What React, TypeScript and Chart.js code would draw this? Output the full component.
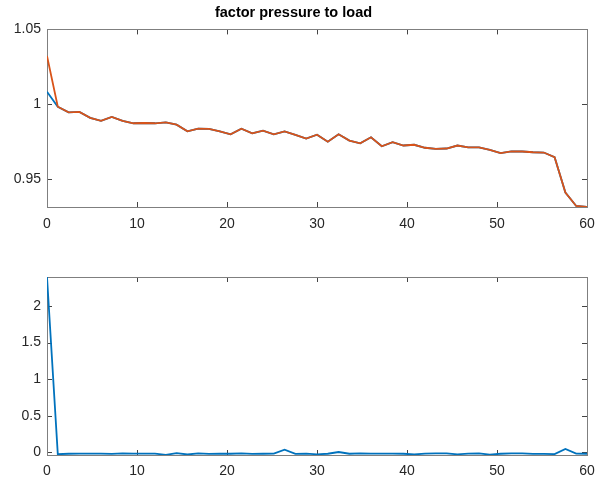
import React, { useEffect, useRef } from "react";
import { Chart, registerables } from "chart.js";

Chart.register(...registerables);

const titleText = "factor pressure to load";

const xValues = [
  0, 1.2, 2.4, 3.6, 4.8, 6, 7.2, 8.4, 9.6, 10.8, 12, 13.2, 14.4, 15.6, 16.8, 18,
  19.2, 20.4, 21.6, 22.8, 24, 25.2, 26.4, 27.6, 28.8, 30, 31.2, 32.4, 33.6, 34.8,
  36, 37.2, 38.4, 39.6, 40.8, 42, 43.2, 44.4, 45.6, 46.8, 48, 49.2, 50.4, 51.6,
  52.8, 54, 55.2, 56.4, 57.6, 58.8, 60,
];

const blueTop = [
  1.0082, 0.9982, 0.9944, 0.9947, 0.9907, 0.9887, 0.9913, 0.9887, 0.9871, 0.9873,
  0.9871, 0.9877, 0.9862, 0.9817, 0.9835, 0.9834, 0.9817, 0.9797, 0.9835, 0.9803,
  0.9822, 0.9797, 0.9817, 0.9793, 0.9769, 0.9794, 0.9747, 0.9797, 0.9755, 0.9737,
  0.9777, 0.9717, 0.9744, 0.9722, 0.9727, 0.9707, 0.97, 0.9702, 0.9722, 0.9709,
  0.9709, 0.9693, 0.9671, 0.9682, 0.9682, 0.9677, 0.9675, 0.9644, 0.9407, 0.9317,
  0.931,
];

const orangeTop = [
  1.0322, 0.9982, 0.9944, 0.9947, 0.9907, 0.9887, 0.9913, 0.9887, 0.9871, 0.9873,
  0.9871, 0.9877, 0.9862, 0.9817, 0.9835, 0.9834, 0.9817, 0.9797, 0.9835, 0.9803,
  0.9822, 0.9797, 0.9817, 0.9793, 0.9769, 0.9794, 0.9747, 0.9797, 0.9755, 0.9737,
  0.9777, 0.9717, 0.9744, 0.9722, 0.9727, 0.9707, 0.97, 0.9702, 0.9722, 0.9709,
  0.9709, 0.9693, 0.9671, 0.9682, 0.9682, 0.9677, 0.9675, 0.9644, 0.9407, 0.9317,
  0.931,
];

const blueBottom = [
  2.396, -0.027, -0.02, -0.018, -0.019, -0.017, -0.021, -0.016, -0.018, -0.017,
  -0.018, -0.035, -0.012, -0.03, -0.016, -0.022, -0.018, -0.02, -0.016, -0.021,
  -0.02, -0.017, 0.035, -0.022, -0.017, -0.028, -0.02, 0.004, -0.02, -0.015,
  -0.017, -0.019, -0.018, -0.02, -0.03, -0.017, -0.015, -0.016, -0.028, -0.017,
  -0.015, -0.032, -0.02, -0.014, -0.015, -0.021, -0.022, -0.025, 0.045, -0.018,
  -0.02,
];

const xTicks = [0, 10, 20, 30, 40, 50, 60];
const topYTicks = [0.95, 1, 1.05];
const bottomYTicks = [0, 0.5, 1, 1.5, 2];

const BLUE = "#0072BD";
const ORANGE = "#D95319";
const FONT = "'Liberation Sans', Arial, sans-serif";
const TEXT = "#262626";

const boxPlugin = {
  id: "matlabBox",
  beforeDatasetsDraw(chart: any) {
    const { ctx, chartArea, scales } = chart;
    const { left, right, top, bottom } = chartArea;
    ctx.save();
    ctx.lineWidth = 1;
    ctx.strokeStyle = "#444444";
    const tl = 5;
    ctx.beginPath();
    for (const t of scales.x.ticks) {
      const px = Math.round(scales.x.getPixelForValue(t.value)) + 0.5;
      ctx.moveTo(px, bottom);
      ctx.lineTo(px, bottom - tl);
      ctx.moveTo(px, top);
      ctx.lineTo(px, top + tl);
    }
    for (const t of scales.y.ticks) {
      const py = Math.round(scales.y.getPixelForValue(t.value)) + 0.5;
      ctx.moveTo(left, py);
      ctx.lineTo(left + tl, py);
      ctx.moveTo(right, py);
      ctx.lineTo(right - tl, py);
    }
    ctx.stroke();
    ctx.strokeStyle = "#7f7f7f";
    ctx.strokeRect(
      Math.round(left) + 0.5,
      Math.round(top) + 0.5,
      Math.round(right) - Math.round(left),
      Math.round(bottom) - Math.round(top)
    );
    ctx.restore();
  },
};

function makePoints(ys: number[]) {
  return ys.map((y, i) => ({ x: xValues[i], y }));
}

function fmt(v: number) {
  return String(Math.round(v * 1000) / 1000);
}

function buildOptions(opts: {
  yMin: number;
  yMax: number;
  yTicks: number[];
  xHeight: number;
  xPad: number;
  padTop: number;
  title: boolean;
}) {
  return {
    responsive: false,
    animation: false as const,
    layout: { padding: { left: 0, right: 14, top: opts.padTop, bottom: 0 } },
    plugins: {
      legend: { display: false },
      tooltip: { enabled: false },
      title: {
        display: opts.title,
        text: titleText,
        color: "#000000",
        font: { family: FONT, size: 14.5, weight: "bold" as const },
        padding: { top: 4, bottom: 8 },
      },
    },
    scales: {
      x: {
        type: "linear" as const,
        min: 0,
        max: 60,
        grid: { display: false, drawTicks: false },
        border: { display: false },
        afterBuildTicks: (s: any) => {
          s.ticks = xTicks.map((v) => ({ value: v }));
        },
        afterFit: (s: any) => {
          s.height = opts.xHeight;
          s.paddingLeft = 0;
          s.paddingRight = 0;
        },
        ticks: {
          color: TEXT,
          font: { family: FONT, size: 14 },
          padding: opts.xPad,
          maxRotation: 0,
          callback: (v: any) => fmt(Number(v)),
        },
      },
      y: {
        type: "linear" as const,
        min: opts.yMin,
        max: opts.yMax,
        grid: { display: false, drawTicks: false },
        border: { display: false },
        afterBuildTicks: (s: any) => {
          s.ticks = opts.yTicks.map((v) => ({ value: v }));
        },
        afterFit: (s: any) => {
          s.width = 47;
          s.paddingTop = 0;
          s.paddingBottom = 0;
        },
        ticks: {
          color: TEXT,
          font: { family: FONT, size: 14 },
          padding: 6,
          callback: (v: any) => fmt(Number(v)),
        },
      },
    },
  };
}

export default function App() {
  const topRef = useRef<HTMLCanvasElement | null>(null);
  const botRef = useRef<HTMLCanvasElement | null>(null);

  useEffect(() => {
    const c1 = new Chart(topRef.current as HTMLCanvasElement, {
      type: "line",
      data: {
        datasets: [
          {
            data: makePoints(blueTop),
            borderColor: BLUE,
            borderWidth: 1.8,
            pointRadius: 0,
            tension: 0,
            order: 1,
          },
          {
            data: makePoints(orangeTop),
            borderColor: ORANGE,
            borderWidth: 1.8,
            pointRadius: 0,
            tension: 0,
            order: 0,
          },
        ],
      },
      options: buildOptions({
        yMin: 0.931,
        yMax: 1.05,
        yTicks: topYTicks,
        xHeight: 34,
        xPad: 9,
        padTop: 0,
        title: true,
      }) as any,
      plugins: [boxPlugin],
    });
    const c2 = new Chart(botRef.current as HTMLCanvasElement, {
      type: "line",
      data: {
        datasets: [
          {
            data: makePoints(blueBottom),
            borderColor: BLUE,
            borderWidth: 1.8,
            pointRadius: 0,
            tension: 0,
          },
        ],
      },
      options: buildOptions({
        yMin: -0.037,
        yMax: 2.396,
        yTicks: bottomYTicks,
        xHeight: 27,
        xPad: 8,
        padTop: 36,
        title: false,
      }) as any,
      plugins: [boxPlugin],
    });
    return () => {
      c1.destroy();
      c2.destroy();
    };
  }, []);

  return (
    <div
      style={{
        position: "absolute",
        left: 0,
        top: 0,
        width: 601,
        height: 482,
        background: "#ffffff",
      }}
    >
      <canvas
        ref={topRef}
        width={601}
        height={241}
        style={{ position: "absolute", left: 0, top: 0, width: 601, height: 241 }}
      />
      <canvas
        ref={botRef}
        width={601}
        height={241}
        style={{ position: "absolute", left: 0, top: 241, width: 601, height: 241 }}
      />
    </div>
  );
}
